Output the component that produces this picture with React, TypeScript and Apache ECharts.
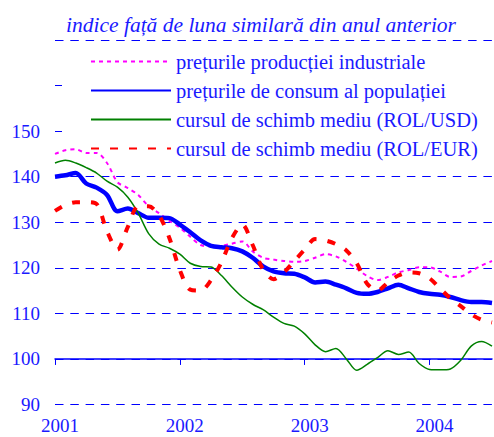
import React, { useEffect, useRef } from 'react';
import * as echarts from 'echarts';

const yearLabels = ['2001', '2002', '2003', '2004'];
const seriesNames = [
  'prețurile producției industriale',
  'prețurile de consum al populației',
  'cursul de schimb mediu (ROL/USD)',
  'cursul de schimb mediu (ROL/EUR)',
];
const titleText = 'indice față de luna similară din anul anterior';

// monthly values, Jan 2001 .. Jul 2004
const ppi = [
  145.0, 145.8, 146.0, 145.2, 145.2, 143.0, 138.8, 137.5, 136.0, 133.5, 132.0, 130.3,
  128.8, 126.8, 125.0, 124.7, 124.8, 125.3, 125.8, 123.6, 122.2, 121.8, 121.5, 121.3,
  121.5, 122.2, 123.0, 122.5, 121.3, 119.8, 118.2, 117.3, 118.0, 119.0, 119.5, 120.1,
  120.1, 119.2, 118.0, 118.1, 119.3, 120.5, 121.5,
];
const cpi = [
  140.0, 140.3, 140.8, 138.5, 137.6, 136.0, 132.4, 133.0, 132.0, 131.0, 131.0, 130.9,
  129.5, 127.8, 126.0, 124.8, 124.5, 124.3, 123.6, 122.2, 120.3, 119.2, 118.8, 118.7,
  117.9, 116.8, 117.0, 116.3, 115.5, 114.5, 114.3, 114.7, 115.5, 116.3, 115.5, 114.7,
  114.3, 114.1, 113.6, 112.9, 112.5, 112.5, 112.3,
];
const usd = [
  143.0, 143.6, 143.0, 142.0, 140.8, 139.0, 137.7, 135.5, 132.0, 127.5, 125.2, 124.3,
  123.0, 121.0, 120.3, 120.2, 118.3, 115.8, 113.6, 112.0, 110.8, 109.2, 107.8, 107.2,
  105.5, 103.1, 101.6, 102.3, 100.0, 97.5, 98.8, 100.3, 101.8, 101.0, 101.5, 99.0,
  97.7, 97.6, 97.8, 99.7, 102.8, 103.8, 102.8,
];
const eur = [
  132.5, 133.8, 134.4, 134.4, 134.0, 128.0, 124.0, 129.0, 133.5, 133.5, 131.5, 126.5,
  119.5, 115.2, 115.0, 117.3, 121.2, 126.5, 129.5, 125.0, 119.6, 117.5, 119.0, 121.5,
  124.0, 126.3, 126.0, 125.2, 123.8, 121.0, 116.5, 115.0, 116.8, 118.3, 119.0, 118.8,
  117.7, 115.5, 113.3, 111.6, 109.8, 108.6, 108.0,
];

const BLUE = '#0000ff';
const TEXT_BLUE = '#1a1aff';
const FONT = 'Liberation Serif, Times New Roman, serif';

export default function App() {
  const ref = useRef<HTMLDivElement>(null);
  useEffect(() => {
    const chart = echarts.init(ref.current!, null, { renderer: 'svg' });
    const pairs = (arr: number[]) => arr.map((v, i) => [i, v]);
    const lastMonth = ppi.length - 1;
    const tickVals = yearLabels.map((_, i) => i * 12);
    chart.setOption({
      animation: false,
      backgroundColor: '#ffffff',
      textStyle: { fontFamily: FONT },
      title: {
        text: titleText,
        left: 61,
        top: 9,
        textStyle: {
          fontFamily: FONT,
          fontStyle: 'italic',
          fontWeight: 'normal',
          fontSize: 21.5,
          color: TEXT_BLUE,
        },
      },
      legend: {
        orient: 'vertical',
        left: 62,
        top: 44,
        z: 1,
        padding: [7, 18, 4, 28],
        backgroundColor: '#ffffff',
        itemWidth: 80,
        itemHeight: 14,
        itemGap: 8,
        selectedMode: false,
        itemStyle: { opacity: 0 },
        data: seriesNames,
        textStyle: { fontFamily: FONT, fontSize: 20.5, color: TEXT_BLUE },
      },
      grid: { left: 55, right: 2, top: 40, bottom: 32.5 },
      xAxis: [
        {
          type: 'value',
          min: 0,
          max: lastMonth,
          position: 'bottom',
          offset: -45.56,
          axisLine: { show: true, lineStyle: { color: BLUE, width: 1.5 } },
          axisTick: {
            show: true,
            length: 6,
            customValues: tickVals,
            lineStyle: { color: BLUE, width: 1 },
          },
          axisLabel: { show: false },
          splitLine: { show: false },
        },
        {
          type: 'value',
          min: 0,
          max: lastMonth,
          position: 'bottom',
          axisLine: { show: false },
          axisTick: { show: false },
          splitLine: { show: false },
          axisLabel: {
            show: true,
            customValues: tickVals,
            margin: 11,
            padding: [0, 0, 0, 10],
            fontFamily: FONT,
            fontSize: 19,
            color: TEXT_BLUE,
            formatter: (v: number) => yearLabels[Math.round(v / 12)] ?? '',
          },
        },
      ],
      yAxis: {
        type: 'value',
        min: 90,
        max: 170,
        interval: 10,
        axisLine: { show: false },
        axisTick: { show: false },
        axisLabel: {
          margin: 15,
          fontFamily: FONT,
          fontSize: 19,
          color: TEXT_BLUE,
          formatter: (v: number) => (v <= 150 ? String(v) : ''),
        },
        splitLine: {
          show: true,
          lineStyle: { color: BLUE, width: 1, type: [8.5, 6.8] },
        },
      },
      series: [
        {
          name: seriesNames[0],
          type: 'line',
          data: pairs(ppi),
          symbol: 'none',
          smooth: 0.3,
          lineStyle: { color: '#ff00ff', width: 2, type: [4, 4] },
          itemStyle: { color: '#ff00ff' },
        },
        {
          name: seriesNames[1],
          type: 'line',
          data: pairs(cpi),
          symbol: 'none',
          smooth: 0.3,
          lineStyle: { color: BLUE, width: 4.5 },
          itemStyle: { color: BLUE },
        },
        {
          name: seriesNames[2],
          type: 'line',
          data: pairs(usd),
          symbol: 'none',
          smooth: 0.3,
          lineStyle: { color: '#008000', width: 1.5 },
          itemStyle: { color: '#008000' },
        },
        {
          name: seriesNames[3],
          type: 'line',
          data: pairs(eur),
          symbol: 'none',
          smooth: 0.3,
          lineStyle: { color: '#ff0000', width: 4, type: [8, 11] },
          itemStyle: { color: '#ff0000' },
        },
      ],
    });
    return () => chart.dispose();
  }, []);
  return (
    <div
      ref={ref}
      style={{ position: 'fixed', left: 0, top: 0, width: 494, height: 437 }}
    />
  );
}
